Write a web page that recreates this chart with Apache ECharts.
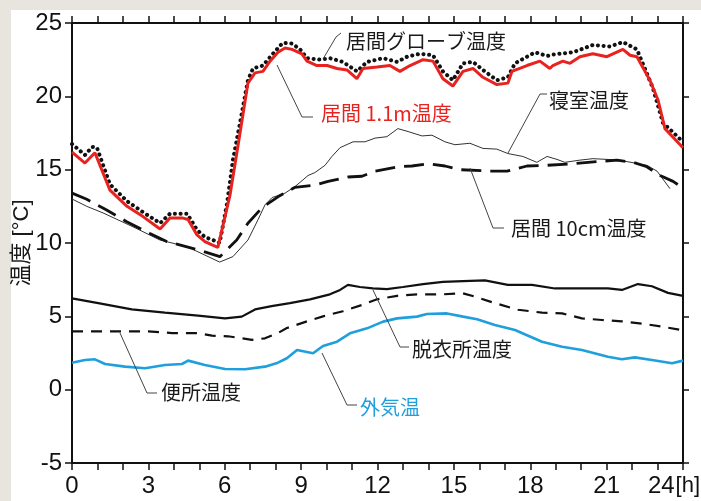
<!DOCTYPE html>
<html>
<head>
<meta charset="utf-8">
<script src="https://cdn.jsdelivr.net/npm/echarts@6/dist/echarts.min.js"></script>
<style>
  html, body { margin: 0; padding: 0; background: #e7e5de; }
  #chart { width: 701px; height: 501px; }
</style>
</head>
<body>
<div id="chart"></div>
<script>
// hours 0-24, temperature in degC
var hourTicks = [0, 3, 6, 9, 12, 15, 18, 21, 24];

var globeTemp = [[0,16.75],[0.51,16.0],[0.79,16.55],[0.98,16.5],[1.49,14.0],[2.16,12.85],[2.79,12.1],
  [3.46,11.35],[3.85,12.0],[4.52,12.0],[4.91,10.9],[5.22,10.4],[5.7,10.1],[5.8,10.0],[6.09,12.7],
  [6.32,15.65],[6.6,18.2],[6.91,21.1],[7.11,21.9],[7.5,22.1],[7.89,22.9],[8.28,23.65],[8.64,23.6],
  [8.96,23.2],[9.23,22.6],[9.74,22.5],[10.13,22.6],[10.64,22.35],[11.19,21.7],[11.59,22.35],[12.22,22.6],
  [12.77,22.35],[13.16,22.7],[13.67,22.9],[14.18,22.8],[14.57,21.7],[14.96,21.1],[15.36,22.25],
  [15.75,22.35],[16.14,21.8],[16.69,21.1],[17.12,21.3],[17.4,22.25],[18.19,23.0],[18.66,22.75],
  [18.89,22.85],[19.68,23.0],[20.46,23.5],[21.13,23.4],[21.64,23.7],[22.19,23.2],[22.82,20.55],
  [23.21,18.2],[24,16.9]];

var living11Temp = [[0,16.2],[0.51,15.45],[0.9,16.15],[1.49,13.6],[2.16,12.5],[2.79,11.8],[3.46,10.95],
  [3.85,11.7],[4.36,11.7],[4.56,11.6],[4.91,10.55],[5.22,10.1],[5.5,9.87],[5.73,9.7],[6.21,13.3],
  [6.6,17.5],[6.91,20.9],[7.19,21.6],[7.5,21.7],[7.78,22.4],[8.09,23.0],[8.37,23.3],[8.64,23.2],
  [9.03,22.9],[9.23,22.4],[9.62,22.1],[10.02,22.1],[10.41,21.9],[10.8,21.8],[11.19,21.2],[11.43,21.9],
  [11.98,22.0],[12.49,22.1],[12.88,21.7],[13.28,22.1],[13.79,22.5],[14.18,22.4],[14.57,21.2],
  [14.96,20.7],[15.36,21.7],[15.75,21.9],[16.14,21.3],[16.69,20.8],[17.12,20.9],[17.28,21.7],
  [17.87,22.1],[18.38,22.4],[18.77,21.9],[18.89,22.1],[19.28,22.4],[19.56,22.25],[19.95,22.7],
  [20.46,22.9],[21.01,22.7],[21.64,23.2],[21.92,22.8],[22.19,22.7],[22.7,21.1],[23.02,19.75],
  [23.29,17.8],[24,16.5]];

var bedroomTemp = [[0,13.0],[0.58,12.5],[1.22,12.05],[2.4,11.1],[3.46,10.2],[4.52,9.75],[5.8,8.7],
  [6.32,9.07],[6.91,10.2],[7.31,11.6],[7.58,12.6],[7.86,13.1],[8.37,13.4],[8.76,13.85],[9.07,14.3],
  [9.27,14.6],[9.54,14.8],[9.94,15.3],[10.21,15.9],[10.53,16.5],[11.04,16.9],[11.51,16.9],[11.9,17.15],
  [12.37,17.25],[12.8,17.8],[13.2,17.6],[13.75,17.3],[14.14,17.35],[14.65,16.9],[15.04,16.7],
  [15.63,16.8],[16.14,16.45],[16.69,16.4],[17.12,16.1],[17.71,15.9],[18.26,15.5],[18.66,15.9],
  [19.05,15.7],[19.36,15.5],[19.95,15.65],[20.46,15.75],[21.01,15.7],[21.8,15.55],[22.58,15.3],
  [22.98,14.9],[23.49,13.7]];

var living10Temp = [[0,13.4],[0.58,12.98],[1.36,12.25],[2.15,11.45],[3.06,10.65],[3.72,10.1],[5.03,9.5],
  [5.81,9.07],[6.47,10.2],[6.91,11.35],[7.46,12.4],[8.09,13.15],[8.76,13.8],[9.54,13.95],[10.06,14.2],
  [10.84,14.5],[11.39,14.55],[11.9,14.9],[12.8,15.2],[13.35,15.25],[13.98,15.4],[14.65,15.25],
  [15.24,15.0],[16.42,14.9],[17.09,14.9],[17.87,15.25],[18.66,15.3],[19.68,15.4],[20.62,15.55],
  [21.41,15.65],[22.04,15.5],[22.58,15.2],[23.1,14.6],[23.61,14.2],[24,13.75]];

var dressingTemp = [[0,6.23],[1.03,5.9],[2.35,5.47],[3.65,5.25],[4.95,5.05],[6.01,4.86],[6.67,4.98],
  [7.19,5.47],[7.84,5.7],[8.56,5.9],[9.35,6.16],[10.13,6.5],[10.53,6.8],[10.84,7.15],[11.31,7.0],
  [11.82,6.9],[12.37,6.85],[13.0,7.0],[13.79,7.2],[14.57,7.35],[15.36,7.4],[16.22,7.45],[17.12,7.15],
  [18.07,7.15],[18.97,6.9],[19.76,6.9],[20.42,6.9],[21.05,6.9],[21.6,6.8],[22.23,7.2],[22.78,7.05],
  [23.41,6.6],[24,6.4]];

var toiletTemp = [[0,3.98],[1.69,3.98],[2.99,3.98],[3.93,3.86],[4.95,3.86],[5.5,3.68],[6.13,3.64],
  [7.07,3.4],[7.58,3.5],[8.09,3.86],[8.44,4.2],[9.23,4.66],[9.86,5.0],[10.64,5.35],[11.43,5.8],
  [11.98,6.16],[12.77,6.4],[13.55,6.5],[14.57,6.5],[15.36,6.57],[15.91,6.3],[16.61,5.9],[17.52,5.45],
  [18.46,5.25],[19.25,5.2],[20.03,4.86],[20.82,4.75],[21.6,4.66],[22.39,4.5],[23.17,4.3],[24,4.05]];

var outdoorTemp = [[0,1.84],[0.51,2.02],[0.9,2.07],[1.3,1.75],[2.08,1.57],[2.87,1.46],[3.65,1.68],
  [4.32,1.75],[4.56,1.98],[5.22,1.68],[6.01,1.41],[6.8,1.39],[7.58,1.57],[8.09,1.84],[8.44,2.14],
  [8.84,2.7],[9.47,2.48],[9.86,2.98],[10.41,3.27],[10.92,3.84],[11.59,4.18],[12.22,4.64],[12.77,4.86],
  [13.55,4.98],[13.94,5.16],[14.73,5.2],[15.36,4.98],[15.91,4.8],[16.61,4.41],[17.4,4.07],[18.46,3.27],
  [19.25,2.93],[20.03,2.7],[21.05,2.25],[21.6,2.07],[22.11,2.2],[22.78,2.02],[23.57,1.8],[24,1.98]];

var RED = '#e8231f';
var BLUE = '#1f9fdc';
var numFont = '"Liberation Sans", Arial, sans-serif';
var jpFont = '"Noto Sans CJK JP", sans-serif';

var myChart = echarts.init(document.getElementById('chart'));

function lbl(text, x, y, color) {
  return {
    type: 'text', z: 50,
    style: { text: text, x: x, y: y, fill: color || '#1a1a1a', font: '20px ' + jpFont, verticalAlign: 'middle' }
  };
}
function leader(points) {
  return {
    type: 'polyline', z: 50,
    shape: { points: points },
    style: { stroke: '#444', lineWidth: 1, fill: null }
  };
}

var axisLineStyle = { color: '#111', width: 2 };
var tickStyle = { color: '#111', width: 1.5 };

var option = {
  backgroundColor: '#e7e5de',
  animation: false,
  grid: { left: 72, right: 18, top: 23, bottom: 38, containLabel: false, outerBoundsMode: 'none' },
  xAxis: [{
    type: 'value', min: 0, max: 24, interval: 1, position: 'bottom',
    axisLine: { onZero: false, lineStyle: axisLineStyle },
    axisTick: { inside: false, length: 7, lineStyle: tickStyle },
    splitLine: { show: false },
    axisLabel: {
      margin: 11, color: '#111', fontSize: 24, fontFamily: numFont,
      formatter: function (v) {
        if (hourTicks.indexOf(v) < 0) return '';
        return v === 24 ? '{last|24}{unit|[h]}' : String(v);
      },
      rich: {
        last: { fontSize: 24, fontFamily: numFont, color: '#111' },
        unit: { fontSize: 22, fontFamily: numFont, color: '#111', padding: [0, 18, 0, 1] }
      }
    }
  }, {
    type: 'value', min: 0, max: 24, interval: 1, position: 'top',
    axisLine: { onZero: false, lineStyle: axisLineStyle },
    axisTick: { inside: false, length: 7, lineStyle: tickStyle },
    splitLine: { show: false },
    axisLabel: { show: false }
  }],
  yAxis: [{
    type: 'value', min: -5, max: 25, interval: 5, position: 'left',
    name: '温度 [°C]', nameLocation: 'middle', nameGap: 39, nameRotate: 90, nameMoveOverlap: false,
    nameTextStyle: { color: '#1a1a1a', fontSize: 22, fontFamily: '"Liberation Sans", "Noto Sans CJK JP", sans-serif' },
    axisLine: { show: true, onZero: false, lineStyle: axisLineStyle },
    axisTick: { inside: false, length: 7, lineStyle: tickStyle },
    splitLine: { show: false },
    axisLabel: { margin: 10, color: '#111', fontSize: 24, fontFamily: numFont }
  }, {
    type: 'value', min: -5, max: 25, interval: 5, position: 'right',
    axisLine: { show: true, onZero: false, lineStyle: axisLineStyle },
    axisTick: { inside: false, length: 6, lineStyle: tickStyle },
    splitLine: { show: false },
    axisLabel: { show: false }
  }],
  graphic: [
    { type: 'rect', z: -100, shape: { x: 11, y: 10, width: 690, height: 491 }, style: { fill: '#ffffff' } },
    lbl('居間グローブ温度', 346, 41),
    leader([[341, 33], [336, 37], [323, 59]]),
    lbl('居間 1.1m温度', 321, 113, RED),
    leader([[277, 65], [302, 117], [313, 117]]),
    lbl('寝室温度', 549, 100),
    leader([[547, 94], [540, 94], [508, 153]]),
    lbl('居間 10cm温度', 511, 228),
    leader([[470, 168], [493, 228], [504, 228]]),
    lbl('脱衣所温度', 412, 349),
    leader([[373, 290], [400, 347], [409, 347]]),
    lbl('便所温度', 161, 392),
    leader([[120, 333], [147, 393], [157, 393]]),
    lbl('外気温', 360, 407, BLUE),
    leader([[322, 353], [347, 405], [357, 405]])
  ],
  series: [{
    name: '居間グローブ温度', type: 'line', data: globeTemp, symbol: 'none', z: 3,
    lineStyle: { color: '#111', width: 4, type: [0.1, 5.6], cap: 'round' }
  }, {
    name: '居間 1.1m温度', type: 'line', data: living11Temp, symbol: 'none', z: 4,
    lineStyle: { color: RED, width: 3 }
  }, {
    name: '寝室温度', type: 'line', data: bedroomTemp, symbol: 'none', z: 3,
    lineStyle: { color: '#333', width: 1 }
  }, {
    name: '居間 10cm温度', type: 'line', data: living10Temp, symbol: 'none', z: 3,
    lineStyle: { color: '#111', width: 2.8, type: [20, 9] }
  }, {
    name: '脱衣所温度', type: 'line', data: dressingTemp, symbol: 'none', z: 3,
    lineStyle: { color: '#111', width: 2.2 }
  }, {
    name: '便所温度', type: 'line', data: toiletTemp, symbol: 'none', z: 3,
    lineStyle: { color: '#111', width: 2.2, type: [11, 8] }
  }, {
    name: '外気温', type: 'line', data: outdoorTemp, symbol: 'none', z: 3,
    lineStyle: { color: BLUE, width: 2.6 }
  }]
};

myChart.setOption(option);

window.onresize = function () {
  myChart.resize();
};
</script>
</body>
</html>
